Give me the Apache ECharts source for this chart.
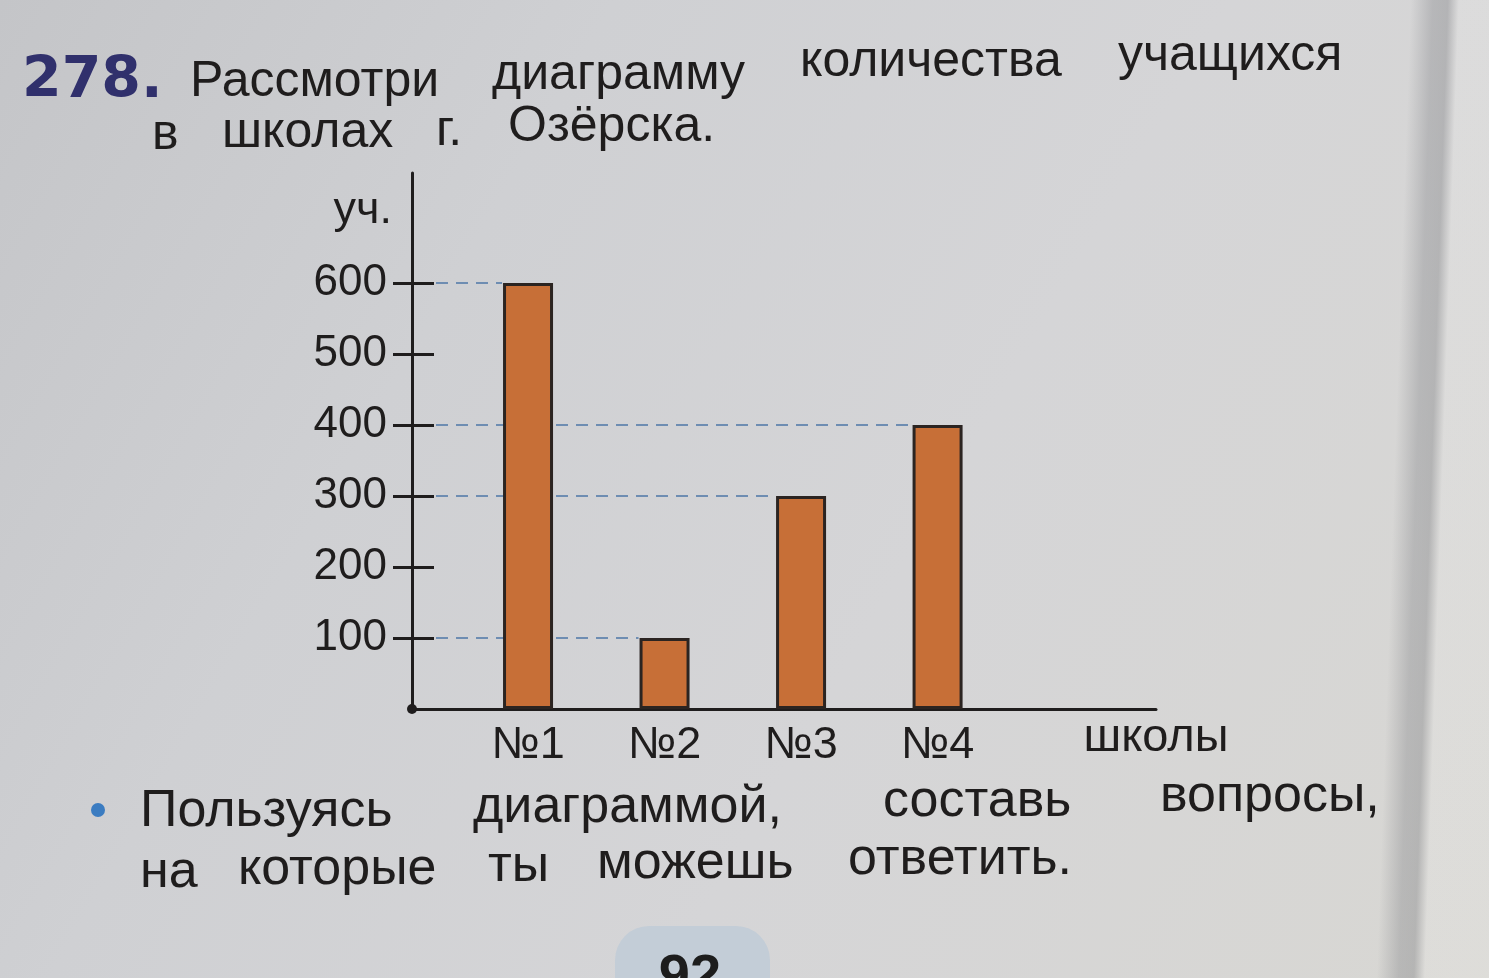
<!DOCTYPE html>
<html>
<head>
<meta charset="utf-8">
<script src="https://cdn.jsdelivr.net/npm/echarts@6/dist/echarts.min.js"></script>
<style>
  html, body { margin: 0; padding: 0; width: 1489px; height: 978px; overflow: hidden; }
  #chart {
    width: 1489px; height: 978px;
    background:
      linear-gradient(92deg, rgba(0,0,0,0) 0px, rgba(0,0,0,0) 1410px, rgba(110,112,118,0.30) 1432px, rgba(90,92,98,0.28) 1447px, rgba(255,255,255,0.14) 1458px, rgba(255,255,255,0.14) 1489px),
      linear-gradient(120deg, #c4c5c8 0%, #cfd0d3 30%, #d5d5d7 60%, #d8d7d3 100%);
  }
</style>
</head>
<body>
<div id="chart"></div>
<script>
// Number of pupils in the schools of Ozyorsk
const schools = ['№1', '№2', '№3', '№4'];
const students = [600, 100, 300, 400];
const yTicks = [100, 200, 300, 400, 500, 600];
const xAxisName = 'школы';
const yAxisName = 'уч.';

// Exercise text around the chart
const exerciseNo = '278.';
const headingLine1 = ['Рассмотри', 'диаграмму', 'количества', 'учащихся'];
const headingLine2 = ['в', 'школах', 'г.', 'Озёрска.'];
const taskLine1 = ['Пользуясь', 'диаграммой,', 'составь', 'вопросы,'];
const taskLine2 = ['на', 'которые', 'ты', 'можешь', 'ответить.'];
const pageNo = '92';

const FONT = '"Liberation Sans", Arial, sans-serif';
const INK = '#1f1d1d';
const BAR_W = 50;
const TICK_IN = 22;

const chart = echarts.init(document.getElementById('chart'), null, { renderer: 'canvas' });

// word placement: [left x, middle y]
const heading1Pos = [[190, 82], [492, 75], [800, 62], [1118, 56]];
const heading2Pos = [[152, 135], [222, 133], [436, 131], [508, 127]];
const task1Pos = [[140, 812], [473, 808], [883, 802], [1160, 797]];
const task2Pos = [[140, 873], [238, 870], [488, 867], [597, 864], [848, 860]];

function words(list, pos, size) {
  return list.map((w, i) => ({
    type: 'text',
    x: pos[i][0], y: pos[i][1],
    z: 10,
    style: { text: w, font: size + 'px ' + FONT, fill: INK, align: 'left', verticalAlign: 'middle' }
  }));
}

const pointData = schools.map((s, i) => [i + 1, students[i]]);

const option = {
  animation: false,
  backgroundColor: 'transparent',
  grid: { left: 412, right: 333, top: 173, bottom: 269, containLabel: false },
  xAxis: {
    type: 'value', min: 0.15, max: 5.6,
    axisLine: { show: true, onZero: false, lineStyle: { color: INK, width: 3 } },
    axisTick: { show: false },
    splitLine: { show: false },
    axisLabel: {
      customValues: [1, 2, 3, 4],
      formatter: v => schools[Math.round(v) - 1],
      fontSize: 45, fontFamily: FONT, color: INK, margin: 14
    },
    name: xAxisName, nameLocation: 'end', nameGap: 0,
    nameTextStyle: { fontSize: 47, fontFamily: FONT, color: INK, align: 'center', verticalAlign: 'top', padding: [6, 0, 0, 0] }
  },
  yAxis: [
    {
      type: 'value', min: 0, max: 755, position: 'left',
      axisLine: { show: true, onZero: false, lineStyle: { color: INK, width: 3 } },
      axisTick: { show: true, customValues: yTicks, length: 19, lineStyle: { color: INK, width: 3 } },
      axisLabel: { customValues: yTicks, fontSize: 44, fontFamily: FONT, color: INK, margin: 25 },
      splitLine: { show: false },
      name: yAxisName, nameLocation: 'end', nameGap: -15,
      nameTextStyle: { fontSize: 45, fontFamily: FONT, color: INK, align: 'right', verticalAlign: 'top', padding: [0, 20, 0, 0] }
    },
    {
      type: 'value', min: 0, max: 755, position: 'left', offset: 0,
      axisLine: { show: false },
      axisTick: { show: true, inside: true, customValues: yTicks, length: TICK_IN, lineStyle: { color: INK, width: 3 } },
      axisLabel: { show: false },
      splitLine: { show: false }
    }
  ],
  series: [
    {
      // dashed guides from the value axis to each bar's top
      type: 'custom', z: 1, silent: true,
      data: pointData,
      renderItem: (params, api) => {
        const p = api.coord([api.value(0), api.value(1)]);
        const x0 = params.coordSys.x + TICK_IN + 2;
        const x1 = p[0] - BAR_W / 2 - 1;
        return {
          type: 'line',
          shape: { x1: x0, y1: p[1], x2: x1, y2: p[1] },
          style: { stroke: '#6e8db2', lineWidth: 2, lineDash: [12, 8] }
        };
      }
    },
    {
      type: 'bar', z: 3,
      data: pointData,
      barWidth: BAR_W,
      itemStyle: { color: '#c76f37', borderColor: '#2b2421', borderWidth: 3 }
    }
  ],
  graphic: [
    {
      type: 'text', x: 22, y: 82, z: 10,
      style: { text: exerciseNo, font: 'bold 57px "DejaVu Sans", sans-serif', fill: '#30306c', align: 'left', verticalAlign: 'middle' }
    },
    ...words(headingLine1, heading1Pos, 50),
    ...words(headingLine2, heading2Pos, 50),
    ...words(taskLine1, task1Pos, 52),
    ...words(taskLine2, task2Pos, 52),
    { type: 'circle', shape: { cx: 98, cy: 810, r: 7 }, style: { fill: '#3b7cc1' }, z: 10 },
    // origin dot of the axes
    { type: 'circle', shape: { cx: 412, cy: 709, r: 5 }, style: { fill: INK }, z: 10 },
    // page number tab
    { type: 'rect', shape: { x: 615, y: 926, width: 155, height: 90, r: 34 }, style: { fill: '#c3cdd7' }, z: 5 },
    {
      type: 'text', x: 690, y: 950, z: 10,
      style: { text: pageNo, font: 'bold 56px "Liberation Sans", Arial, sans-serif', fill: '#1d1d1d', align: 'center', verticalAlign: 'top' }
    }
  ]
};

chart.setOption(option);
</script>
</body>
</html>
